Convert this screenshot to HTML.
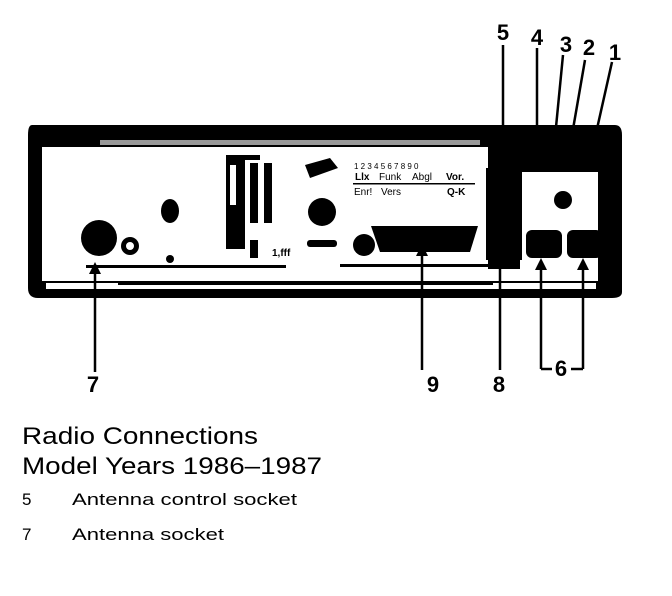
<!DOCTYPE html>
<html><head><style>
body{margin:0;background:#fff;}
svg{display:block;}
text{font-family:"Liberation Sans",Arial,sans-serif;}
</style></head><body>
<svg width="672" height="596" viewBox="0 0 672 596" xmlns="http://www.w3.org/2000/svg">
<path d="M32 125 H615 Q622 125 622 135 V292 Q622 298 612 298 H38 Q28 298 28 288 V135 Q28 125 32 125 Z" fill="#000"/>
<rect x="42" y="147" width="446" height="122" fill="#fff"/>
<rect x="42" y="269" width="560" height="12" fill="#fff"/>
<rect x="520" y="172" width="82" height="97" fill="#fff"/>
<rect x="46" y="283" width="550" height="6" fill="#fff"/>
<rect x="118" y="281" width="375" height="4" fill="#000"/>
<rect x="86" y="265" width="200" height="3" fill="#000"/>
<rect x="340" y="264" width="150" height="3" fill="#000"/>
<rect x="305" y="262" width="30" height="12" fill="#fff"/>
<rect x="100" y="140" width="380" height="5" fill="#fff" opacity="0.6"/>
<circle cx="99" cy="238" r="18" fill="#000"/>
<circle cx="130" cy="246" r="9" fill="#000"/>
<circle cx="130" cy="246" r="4" fill="#fff"/>
<ellipse cx="170" cy="211" rx="9" ry="12" fill="#000"/>
<circle cx="170" cy="259" r="4" fill="#000"/>
<rect x="226" y="155" width="34" height="94" fill="#000"/>
<rect x="230" y="165" width="6" height="40" fill="#fff"/>
<rect x="245" y="160" width="40" height="100" fill="#fff"/>
<rect x="250" y="163" width="8" height="60" fill="#000"/>
<rect x="264" y="163" width="8" height="60" fill="#000"/>
<rect x="250" y="240" width="8" height="18" fill="#000"/>
<text x="272" y="256" font-size="10" font-weight="bold">1,fff</text>
<circle cx="322" cy="212" r="14" fill="#000"/>
<rect x="307" y="240" width="30" height="7" rx="3" fill="#000"/>
<path d="M305 165 L330 158 L338 168 L310 178 Z" fill="#000"/>
<g font-size="10">
<text x="354" y="169" font-size="8">1 2 3 4 5 6 7 8 9 0</text>
<text x="355" y="180" font-weight="bold">Llx</text>
<text x="379" y="180">Funk</text>
<text x="412" y="180">Abgl</text>
<text x="446" y="180" font-weight="bold">Vor.</text>
<rect x="353" y="183" width="122" height="1.5" fill="#000"/>
<text x="354" y="195">Enr!</text><text x="381" y="195">Vers</text><text x="447" y="195" font-weight="bold">Q-K</text>
</g>
<path d="M371 226 H478 L470 252 H380 Z" fill="#000"/>
<circle cx="364" cy="245" r="11" fill="#000"/>
<rect x="486" y="168" width="36" height="92" fill="#000"/>
<rect x="526" y="230" width="36" height="28" rx="6" fill="#000"/>
<rect x="567" y="230" width="35" height="28" rx="6" fill="#000"/>
<circle cx="563" cy="200" r="9" fill="#000"/>
<rect x="598" y="150" width="24" height="140" fill="#000"/>
<g stroke="#000" stroke-width="2.5" fill="none">
<line x1="503" y1="45" x2="503" y2="140"/>
<line x1="537" y1="48" x2="537" y2="158"/>
<line x1="563" y1="55" x2="553" y2="158"/>
<line x1="585" y1="60" x2="568" y2="158"/>
<line x1="612" y1="62" x2="590" y2="160"/>
<line x1="95" y1="268" x2="95" y2="372"/>
<line x1="422" y1="250" x2="422" y2="370"/>
<line x1="500" y1="260" x2="500" y2="370"/>
<line x1="541" y1="264" x2="541" y2="369"/>
<line x1="583" y1="264" x2="583" y2="369"/>
<line x1="541" y1="369" x2="552" y2="369"/>
<line x1="571" y1="369" x2="583" y2="369"/>
</g>
<g fill="#000">
<polygon points="497,138 509,138 503,152"/>
<polygon points="89,274 101,274 95,262"/>
<polygon points="416,256 428,256 422,244"/>
<polygon points="494,266 506,266 500,254"/>
<polygon points="535,270 547,270 541,258"/>
<polygon points="577,270 589,270 583,258"/>
</g>
<g font-size="22" font-weight="bold" text-anchor="middle">
<text x="503" y="40">5</text><text x="537" y="45">4</text><text x="566" y="52">3</text>
<text x="589" y="55">2</text><text x="615" y="60">1</text>
<text x="93" y="392">7</text><text x="433" y="392">9</text><text x="499" y="392">8</text><text x="561" y="376">6</text>
</g>
<text x="22" y="444" font-size="24" textLength="236" lengthAdjust="spacingAndGlyphs">Radio Connections</text>
<text x="22" y="474" font-size="24" textLength="300" lengthAdjust="spacingAndGlyphs">Model Years 1986–1987</text>
<text x="22" y="505" font-size="17">5</text><text x="72" y="505" font-size="17" textLength="225" lengthAdjust="spacingAndGlyphs">Antenna control socket</text>
<text x="22" y="540" font-size="17">7</text><text x="72" y="540" font-size="17" textLength="152" lengthAdjust="spacingAndGlyphs">Antenna socket</text>
</svg>
</body></html>
